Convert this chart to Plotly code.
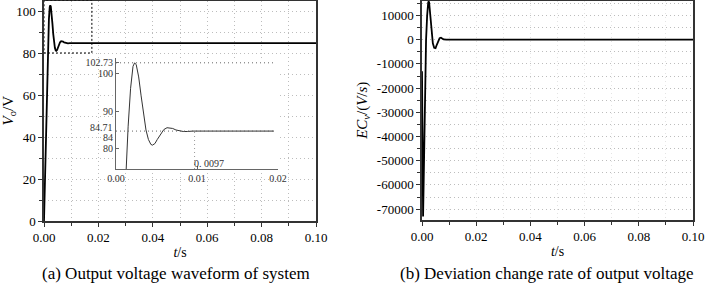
import plotly.graph_objects as go

# ---- data ----
t_v = [0, 0.0004, 0.0008, 0.0012, 0.0015, 0.0018, 0.0021, 0.0023, 0.0025, 0.0028,
       0.0031, 0.0034, 0.0037, 0.0040, 0.0043, 0.0045, 0.0048, 0.0051, 0.0055, 0.0059,
       0.0063, 0.0067, 0.0070, 0.0074, 0.0078, 0.0083, 0.0088, 0.0095, 0.0110, 0.0195, 0.10]
v_o = [0, 22, 48, 72, 86, 96, 101.8, 102.73, 102.2, 99,
       94, 89, 85, 82.5, 81.2, 81.0, 81.4, 82.5, 84.0, 85.1,
       85.6, 85.6, 85.4, 85.0, 84.8, 84.6, 84.6, 84.71, 84.71, 84.71, 84.71]

t_ec = [0, 0.0002, 0.0004, 0.0006, 0.0009, 0.0012, 0.0015, 0.0019, 0.0023, 0.0026,
        0.0030, 0.0035, 0.0040, 0.0045, 0.0050, 0.0055, 0.0060, 0.0065, 0.0070, 0.0075,
        0.0080, 0.0090, 0.10]
ec_v = [-13000, -45000, -73000, -60000, -35000, -15000, 0, 10000, 15500, 15800,
        10000, 3000, -1500, -3300, -3500, -2000, -300, 600, 800, 400,
        100, 0, 0]

x_ticks = [0, 0.02, 0.04, 0.06, 0.08, 0.10]
x_ticklabels = ["0.00", "0.02", "0.04", "0.06", "0.08", "0.10"]
v_ticks = [0, 20, 40, 60, 80, 100]
ec_ticks = [10000, 0, -10000, -20000, -30000, -40000, -50000, -60000, -70000]
ec_ticklabels = ["10000", "0", "-10000", "-20000", "-30000", "-40000", "-50000", "-60000", "-70000"]
inset_x_ticks = [0, 0.01, 0.02]
inset_x_labels = ["0.00", "0.01", "0.02"]
inset_y_ticks = [80, 90, 100, 102.73]
inset_y_labels = ["80", "90", "100", "102.73"]
inset_close_ticks = [84.71, 84]
inset_close_labels = ["84.71", "84"]
peak_value = 102.73
steady_value = 84.71
settle_time = 0.0097
zoom_box = [0, 0.0176, 80, 105]
captions = ["(a) Output voltage waveform of system", "(b) Deviation change rate of output voltage"]

FONT = "Liberation Serif"
GRID = "#bdbdbd"
DOT = "1px,3px"
W, H = 706, 293

fig = go.Figure()
fig.add_trace(go.Scatter(x=t_v, y=v_o, mode="lines", line=dict(color="black", width=1.8),
                         xaxis="x", yaxis="y", showlegend=False))
fig.add_trace(go.Scatter(x=t_ec, y=ec_v, mode="lines", line=dict(color="black", width=1.8),
                         xaxis="x2", yaxis="y2", showlegend=False))
# inset curve
fig.add_trace(go.Scatter(x=t_v[:-1], y=v_o[:-1], mode="lines", line=dict(color="#333", width=1),
                         xaxis="x3", yaxis="y3", showlegend=False))
# inset guide lines
fig.add_trace(go.Scatter(x=[0, 0.0195], y=[peak_value, peak_value], mode="lines",
                         line=dict(color="#666", width=1, dash=DOT), xaxis="x3", yaxis="y3", showlegend=False))
fig.add_trace(go.Scatter(x=[0, 0.0195], y=[steady_value, steady_value], mode="lines",
                         line=dict(color="#666", width=1, dash=DOT), xaxis="x3", yaxis="y3", showlegend=False))
fig.add_trace(go.Scatter(x=[settle_time, settle_time], y=[74.7, steady_value], mode="lines",
                         line=dict(color="#999", width=1, dash=DOT), xaxis="x3", yaxis="y3", showlegend=False))

def px_x(a, b):
    return [a / W, b / W]

def px_y(top, bottom):
    return [(H - bottom) / H, (H - top) / H]

tickfont = dict(family=FONT, size=13, color="black")
common = dict(showline=True, linecolor="#333", linewidth=1.5, mirror=True, ticks="outside",
              ticklen=4, tickwidth=1, tickcolor="#333", zeroline=False, tickfont=tickfont,
              automargin=False)

inset_common = dict(showline=True, linecolor="#666", linewidth=1, mirror=False,
                    ticks="inside", ticklen=3, tickcolor="#666", showgrid=False, zeroline=False,
                    tickfont=dict(family=FONT, size=10, color="#333"), automargin=False)

annotations = [
    dict(text="0. 0097", xref="x3", yref="y3", x=settle_time, y=74.7, xanchor="left",
         yanchor="bottom", showarrow=False, font=dict(family=FONT, size=10, color="#333"),
         xshift=-3, yshift=-2),
    dict(text=captions[0], xref="paper", yref="paper", x=176 / W, y=(H - 273) / H,
         xanchor="center", yanchor="middle", showarrow=False, font=dict(family=FONT, size=17)),
    dict(text=captions[1], xref="paper", yref="paper", x=547 / W, y=(H - 273) / H,
         xanchor="center", yanchor="middle", showarrow=False, font=dict(family=FONT, size=17)),
]
for val, lab, shift in zip(inset_close_ticks, inset_close_labels, [4, -4]):
    annotations.append(dict(text=lab, xref="x3 domain", yref="y3", x=0, y=val, xanchor="right",
                            yanchor="middle", showarrow=False, xshift=-1, yshift=shift,
                            font=dict(family=FONT, size=10, color="#333")))

fig.update_layout(
    width=W, height=H, margin=dict(l=0, r=0, t=0, b=0),
    paper_bgcolor="white", plot_bgcolor="white",
    font=dict(family=FONT, color="black"),
    xaxis=dict(domain=px_x(44, 316), range=[0, 0.1], anchor="y",
               tickvals=x_ticks, ticktext=x_ticklabels,
               showgrid=True, gridcolor=GRID, griddash=DOT, gridwidth=1,
               minor=dict(dtick=0.01, tick0=0, ticks="outside", ticklen=3, tickcolor="#333",
                          showgrid=True, gridcolor=GRID, griddash=DOT),
               title=dict(text="<i>t</i>/s", font=dict(family=FONT, size=14), standoff=3),
               **common),
    yaxis=dict(domain=px_y(0.5, 221), range=[0, 105], anchor="x",
               tickvals=v_ticks, showgrid=False,
               minor=dict(dtick=10, tick0=0, ticks="outside", ticklen=3, tickcolor="#333",
                          showgrid=True, gridcolor=GRID, griddash=DOT),
               title=dict(text="<i>V</i><sub>o</sub>/V", font=dict(family=FONT, size=15), standoff=9),
               **common),
    xaxis2=dict(domain=px_x(422, 693), range=[0, 0.1], anchor="y2",
                tickvals=x_ticks, ticktext=x_ticklabels,
                showgrid=False,
                minor=dict(dtick=0.01, tick0=0, ticks="outside", ticklen=3, tickcolor="#333",
                           showgrid=True, gridcolor="#e4e4e4", griddash=DOT),
                title=dict(text="<i>t</i>/s", font=dict(family=FONT, size=14), standoff=3),
                **common),
    yaxis2=dict(domain=px_y(0.5, 220), range=[-74500, 16200], anchor="x2",
                tickvals=ec_ticks, ticktext=ec_ticklabels, showgrid=False,
                minor=dict(dtick=5000, tick0=0, ticks="outside", ticklen=3, tickcolor="#333",
                           showgrid=True, gridcolor=GRID, griddash=DOT),
                title=dict(text="<i>EC</i><sub><i>v</i></sub>/(<i>V</i>/<i>s</i>)",
                           font=dict(family=FONT, size=15), standoff=6),
                **common),
    xaxis3=dict(domain=px_x(116, 278), range=[0, 0.02], anchor="y3",
                tickvals=inset_x_ticks, ticktext=inset_x_labels, **inset_common),
    yaxis3=dict(domain=px_y(58, 169), range=[74.7, 104], anchor="x3",
                tickvals=inset_y_ticks, ticktext=inset_y_labels, **inset_common),
    shapes=[dict(type="rect", xref="x", yref="y", x0=zoom_box[0], x1=zoom_box[1],
                 y0=zoom_box[2], y1=zoom_box[3], line=dict(color="black", width=1, dash="2px,2px"))],
    annotations=annotations,
)

fig.write_html("out.html", config={"displayModeBar": False},
               post_script="document.body.style.margin='0';")
